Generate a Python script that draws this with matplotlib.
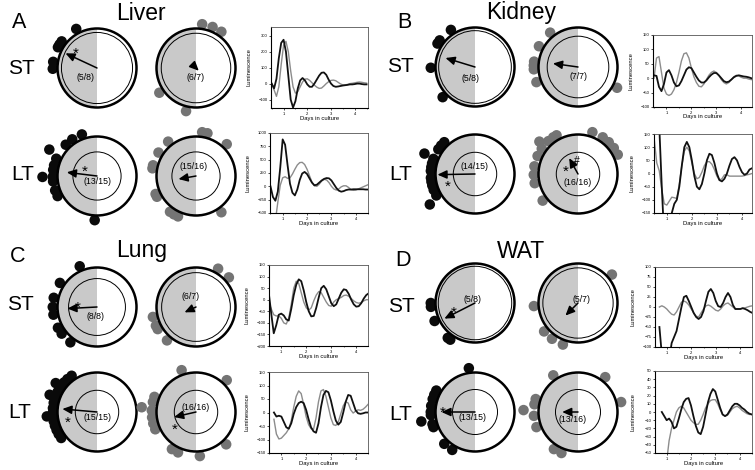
import numpy as np
import matplotlib
matplotlib.use('Agg')
import matplotlib.pyplot as plt
from matplotlib.patches import Circle, Wedge

plt.rcParams['font.family'] = ['Liberation Sans', 'DejaVu Sans']

# ---------------------------------------------------------------- data
DAYS = [0.5, 0.6, 0.7, 0.8, 0.9, 1.0, 1.1, 1.2, 1.3, 1.4, 1.5, 1.6, 1.7, 1.8,
        1.9, 2.0, 2.1, 2.2, 2.3, 2.4, 2.5, 2.6, 2.7, 2.8, 2.9, 3.0, 3.1, 3.2,
        3.3, 3.4, 3.5, 3.6, 3.7, 3.8, 3.9, 4.0, 4.1, 4.2, 4.3, 4.4, 4.5]

LIVER_ST_BLACK = [0, -30, 30, 160, 255, 275, 200, 50, -100, -150, -110, -30, 20, 35, 20, -5, -20, -20, 0, 25,
                  50, 68, 70, 55, 25, 0, -15, -20, -18, -15, -12, -10, -8, -5, -5, -3, 0, 0, -3, -5, -5]
LIVER_ST_GRAY = [0, -40, -80, -20, 120, 240, 265, 200, 80, -20, -60, -50, -20, 10, 28, 30, 20, 5, -10, -22,
                 -30, -28, -15, 0, 12, 20, 22, 18, 8, -2, -8, -8, -5, 0, 2, 5, 8, 10, 8, 5, 3]
LIVER_LT_BLACK = [0, -200, -270, -100, 350, 880, 780, 400, 50, -120, -170, -60, 120, 240, 270, 230, 150, 70, 20, 30,
                  70, 110, 140, 155, 150, 110, 40, -30, -80, -100, -90, -70, -60, -60, -55, -55, -55, -55, -55, -60, -60]
LIVER_LT_GRAY = [None, None, -650, -300, 20, 160, 180, 150, 160, 230, 320, 400, 445, 450, 410, 320, 200, 80, 10, 0,
                 40, 100, 130, 120, 70, 0, -50, -70, -50, -10, 10, 10, -20, -60, -75, -70, -50, -30, -10, 10, 30]

KIDNEY_ST_BLACK = [10, 8, -30, -45, -20, 20, 28, 10, -15, -28, -25, -10, 10, 30, 38, 35, 20, 5, -8, -15,
                   -15, -8, 3, 12, 18, 18, 10, 0, -10, -14, -12, -5, 3, 8, 10, 8, 6, 5, 3, 0, -3]
KIDNEY_ST_GRAY = [0, 70, 75, 20, -35, -55, -60, -55, -40, -15, 20, 60, 85, 88, 70, 35, 5, -15, -28, -30,
                  -20, -5, 10, 20, 25, 20, 10, -5, -15, -20, -15, -5, 5, 10, 8, 3, 0, 0, -3, -5, -5]
KIDNEY_LT_BLACK = [400, 300, 180, -50, -250, -300, -230, -150, -115, -100, -50, 30, 100, 120, 100, 50, -10, -50, -60, -40,
                   0, 50, 75, 70, 40, 0, -25, -30, -20, 0, 30, 55, 62, 50, 25, 5, -5, 0, 15, 20, 20]
KIDNEY_LT_GRAY = [130, 40, 10, -60, -115, -120, -105, -90, -92, -95, -40, 30, 85, 100, 85, 40, 0, -20, -15, 5,
                  30, 45, 45, 35, 15, -10, -25, -20, -5, -5, -10, -10, -10, -10, -10, -10, -8, -5, -3, 0, 0]

LUNG_ST_BLACK = [30, -60, -145, -110, -65, -60, -68, -85, -90, -40, 20, 65, 88, 80, 40, -10, -50, -72, -70, -35,
                 10, 50, 60, 45, 15, -15, -28, -20, 5, 30, 45, 42, 25, 0, -20, -30, -28, -15, 5, 20, 28]
LUNG_ST_GRAY = [-10, -40, -65, -70, -70, -80, -100, -105, -80, -20, 50, 80, 70, 30, -10, -35, -45, -35, -5, 20,
                35, 30, 10, -10, -25, -28, -10, 0, 5, 10, 18, 20, 15, 5, -5, -12, -15, -12, -5, 0, 0]
LUNG_LT_BLACK = [None, None, 0, -15, -12, -15, -35, -55, -60, -40, -5, 20, 35, 40, 35, 10, -25, -55, -70, -75,
                 -40, 20, 65, 80, 75, 45, 5, -30, -45, -35, 0, 40, 65, 62, 35, 8, -3, -5, -3, 0, 0]
LUNG_LT_GRAY = [None, None, -25, -80, -98, -95, -85, -75, -60, -30, 20, 60, 80, 70, 30, -15, -45, -60, -62, -20,
                40, 80, 85, 60, 20, -20, -45, -48, -35, -5, 25, 40, 35, 10, -2, 5, 10, 8, 12, 20, 30]

WAT_ST_BLACK = [None, None, -50, -120, -200, -200, -130, -90, -75, -60, -30, 0, 25, 28, 15, 0, -15, -25, -30, -25,
                -10, 15, 38, 45, 35, 15, 2, 0, 10, 25, 35, 25, 5, -5, -5, -5, -3, -5, -8, -12, -15]
WAT_ST_GRAY = [None, None, 0, 3, 0, -5, -12, -18, -20, -12, 0, 12, 15, 12, 5, -5, -15, -23, -25, -15,
               -5, 3, 5, 2, -3, -8, -10, -5, 3, 8, 10, 5, 0, -5, -5, -5, -3, -2, 0, 2, 3]
WAT_LT_BLACK = [None, None, None, 0, -5, -10, -8, -12, -20, -18, -8, 3, 12, 16, 17, 8, -5, -17, -25, -27,
                -18, -3, 12, 22, 28, 25, 15, 5, -3, -5, -3, 2, 7, 10, 10, 8, 5, 3, 0, -2, -3]
WAT_LT_GRAY = [None, None, None, None, None, -60, -35, -20, -10, 0, 5, 7, 5, 0, -5, -10, -13, -15, -15, -10,
               -3, 5, 10, 14, 15, 15, 10, 3, -3, -5, -4, 0, 4, 6, 7, 5, 2, 0, -2, -3, -3]

# phase dots: (angle in degrees, stacking layer)
LIVER_ST_1_DOTS = [(118, 0), (143, 0), (148, 0), (152, 0), (172, 0), (181, 0)]
LIVER_ST_2_DOTS = [(82, 0), (68, 0), (55, 0), (214, 0), (257, 0)]
LIVER_LT_1_DOTS = [(110, 0), (124, 0), (135, 0), (151, 1), (157, 0), (166, 0), (172, 0), (181, 1), (181, 0),
                   (187, 0), (199, 0), (207, 0), (267, 0)]
LIVER_LT_2_DOTS = [(82, 0), (75, 0), (129, 0), (148, 0), (166, 0), (170, 0), (204, 0), (208, 0), (234, 0),
                   (240, 0), (246, 0), (46, 0), (305, 0)]
KIDNEY_ST_1_DOTS = [(123, 0), (143, 0), (148, 0), (181, 0), (223, 0)]
KIDNEY_ST_2_DOTS = [(129, 0), (152, 0), (173, 0), (178, 0), (183, 0), (200, 0), (332, 0)]
KIDNEY_LT_1_DOTS = [(134, 0), (140, 0), (146, 0), (158, 1), (160, 0), (166, 0), (171, 0), (176, 0), (185, 0),
                    (190, 0), (195, 0), (201, 0), (209, 0), (214, 1)]
KIDNEY_LT_2_DOTS = [(124, 0), (132, 0), (145, 0), (156, 0), (170, 0), (181, 0), (192, 0), (217, 0), (119, 0),
                    (71, 0), (56, 0), (46, 0), (36, 0), (26, 0), (140, 0.6)]
LUNG_ST_1_DOTS = [(113, 0), (147, 0), (168, 0), (180, 0), (190, 0), (208, 0), (217, 0), (233, 0)]
LUNG_ST_2_DOTS = [(60, 0), (42, 0), (193, 0), (205, 0), (210, 0), (229, 0)]
LUNG_LT_1_DOTS = [(125, 0), (132, 0), (138, 0), (143, 0), (148, 0), (153, 0), (158, 0), (163, 0), (168, 0),
                  (175, 0), (181, 0), (186, 0), (192, 0), (198, 0), (204, 0), (210, 0), (216, 0),
                  (145, 0.6), (160, 0.6), (185, 0.6)]
LUNG_LT_2_DOTS = [(109, 0), (46, 0), (160, 0), (167, 0), (175, 1), (178, 0), (187, 0), (195, 0), (203, 0),
                  (237, 0), (246, 0), (275, 0), (313, 0)]
WAT_ST_1_DOTS = [(180, 0), (185, 0), (204, 0), (232, 0), (236, 0)]
WAT_ST_2_DOTS = [(40, 0), (184, 0), (220, 0), (234, 0), (250, 0)]
WAT_LT_1_DOTS = [(98, 0), (151, 0), (157, 0), (163, 0), (172, 0), (180, 0), (184, 0), (190, 1), (196, 0),
                 (200, 0), (226, 0), (239, 0)]
WAT_LT_2_DOTS = [(124, 0), (52, 0), (13, 0), (163, 0), (170, 0), (178, 1), (185, 0), (200, 0), (237, 0), (248, 0)]

# mean vectors: (angle in degrees, vector length)
VECTORS = {
    'liver_st_1': (155, 0.88), 'liver_st_2': (315, 0.1), 'liver_lt_1': (173, 0.77), 'liver_lt_2': (190, 0.45),
    'kidney_st_1': (163, 0.78), 'kidney_st_2': (172, 0.64), 'kidney_lt_1': (181, 0.95), 'kidney_lt_2': (119, 0.46),
    'lung_st_1': (183, 0.75), 'lung_st_2': (205, 0.32), 'lung_lt_1': (175, 0.88), 'lung_lt_2': (193, 0.57),
    'wat_st_1': (207, 0.87), 'wat_st_2': (225, 0.45), 'wat_lt_1': (180, 0.85), 'wat_lt_2': (180, 0.4),
}
COUNTS = {
    'liver_st_1': '(5/8)', 'liver_st_2': '(6/7)', 'liver_lt_1': '(13/15)', 'liver_lt_2': '(15/16)',
    'kidney_st_1': '(5/8)', 'kidney_st_2': '(7/7)', 'kidney_lt_1': '(14/15)', 'kidney_lt_2': '(16/16)',
    'lung_st_1': '(8/8)', 'lung_st_2': '(6/7)', 'lung_lt_1': '(15/15)', 'lung_lt_2': '(16/16)',
    'wat_st_1': '(5/8)', 'wat_st_2': '(5/7)', 'wat_lt_1': '(13/15)', 'wat_lt_2': '(13/16)',
}

# ---------------------------------------------------------------- figure
W, H = 755, 470
fig = plt.figure(figsize=(W / 100, H / 100), dpi=100)
R = 39.5           # circle radius in px
S = 1.75           # half extent of circle axes in radius units

BLACK = '#0a0a0a'
GRAYDOT = '#747474'
FILL = '#c9c9c9'


def clock(key, cx, cy, dots, color, inner, lab_off, marks=()):
    ax = fig.add_axes([(cx - S * R) / W, 1 - (cy + S * R) / H, 2 * S * R / W, 2 * S * R / H])
    ax.set_xlim(-S, S)
    ax.set_ylim(-S, S)
    ax.set_aspect('equal')
    ax.axis('off')
    ax.patch.set_visible(False)
    ax.add_patch(Wedge((0, 0), 1, 90, 270, facecolor=FILL, edgecolor='none', zorder=1))
    ax.add_patch(Circle((0, 0), inner, fill=False, lw=0.7, ec='black', zorder=2))
    for ang, layer in dots:
        rr = 1.12 + 0.26 * layer
        a = np.deg2rad(ang)
        ax.add_patch(Circle((rr * np.cos(a), rr * np.sin(a)), 0.133, fc=color, ec='none', zorder=3))
    ax.add_patch(Circle((0, 0), 1, fill=False, lw=1.8, ec='black', zorder=4))
    ang, L = VECTORS[key]
    a = np.deg2rad(ang)
    ax.annotate('', xy=(L * np.cos(a), L * np.sin(a)), xytext=(0, 0),
                arrowprops=dict(arrowstyle='-|>,head_length=0.55,head_width=0.25', color='black',
                                lw=1.1, shrinkA=0, shrinkB=0, mutation_scale=10), zorder=5)
    ax.text(lab_off[0], lab_off[1], COUNTS[key], fontsize=6.3, ha='center', va='center', zorder=6)
    for sym, mx, my in marks:
        ax.text(mx, my - (0.12 if sym == '*' else 0), sym, fontsize=11 if sym == '*' else 7.5,
                ha='center', va='center', zorder=6)


def trace(box, xlim, ylim, yticks, black, gray):
    l, t, r, b = box
    ax = fig.add_axes([l / W, 1 - b / H, (r - l) / W, (b - t) / H])
    x = np.array(DAYS, dtype=float)
    ax.plot(x, np.array(gray, dtype=float), color='#8c8c8c', lw=1.0)
    ax.plot(x, np.array(black, dtype=float), color='#111111', lw=1.3)
    ax.set_xlim(xlim)
    ax.set_ylim(ylim)
    ax.set_xticks([1, 2, 3, 4])
    ax.set_xticks([t_ for t_ in (0.5, 1.5, 2.5, 3.5, 4.5) if xlim[0] <= t_ <= xlim[1]], minor=True)
    ax.set_yticks(yticks)
    ax.tick_params(labelsize=3, length=1.6, width=0.5, pad=1)
    ax.tick_params(which='minor', length=1.0, width=0.4)
    for s in ('left', 'bottom'):
        ax.spines[s].set_linewidth(0.8)
    for s in ('top', 'right'):
        ax.spines[s].set_linewidth(0.6)
        ax.spines[s].set_color('#555555')
    ax.set_ylabel('Luminescence', fontsize=4.2)
    ax.yaxis.set_label_coords(-0.2, 0.5)
    ax.set_xlabel('Days in culture', fontsize=4.2)
    ax.xaxis.set_label_coords(0.5, -0.1)


# ---- Liver (A)
clock('liver_st_1', 97, 68, LIVER_ST_1_DOTS, BLACK, 0.9, (-0.3, -0.25), [('*', -0.55, 0.48)])
clock('liver_st_2', 196, 68, LIVER_ST_2_DOTS, GRAYDOT, 0.88, (0.0, -0.25))
clock('liver_lt_1', 97, 176, LIVER_LT_1_DOTS, BLACK, 0.61, (0.0, -0.15), [('*', -0.3, 0.22)])
clock('liver_lt_2', 196, 176, LIVER_LT_2_DOTS, GRAYDOT, 0.61, (-0.07, 0.23))
trace((271, 27, 368, 108), (0.47, 4.56), (-153, 355), [-100, 0, 100, 200, 300], LIVER_ST_BLACK, LIVER_ST_GRAY)
trace((270, 133, 368, 213), (0.48, 4.5), (-500, 1000), [-500, -250, 0, 250, 500, 750, 1000],
      LIVER_LT_BLACK, LIVER_LT_GRAY)

# ---- Kidney (B)
clock('kidney_st_1', 475, 67, KIDNEY_ST_1_DOTS, BLACK, 0.92, (-0.12, -0.3))
clock('kidney_st_2', 578, 67, KIDNEY_ST_2_DOTS, GRAYDOT, 0.78, (0.02, -0.25))
clock('kidney_lt_1', 475, 174, KIDNEY_LT_1_DOTS, BLACK, 0.55, (0.0, 0.2), [('*', -0.68, -0.2)])
clock('kidney_lt_2', 578, 174, KIDNEY_LT_2_DOTS, GRAYDOT, 0.55, (0.0, -0.22),
      [('*', -0.3, 0.18), ('#', -0.02, 0.33)])
trace((653, 35, 752, 107), (0.46, 4.43), (-100, 150), [-100, -50, 0, 50, 100, 150], KIDNEY_ST_BLACK, KIDNEY_ST_GRAY)
trace((654, 134, 752, 213), (0.49, 4.4), (-150, 150), [-150, -100, -50, 0, 50, 100, 150],
      KIDNEY_LT_BLACK, KIDNEY_LT_GRAY)

# ---- Lung (C)
clock('lung_st_1', 97, 307, LUNG_ST_1_DOTS, BLACK, 0.72, (-0.05, -0.25), [('*', -0.48, 0.1)])
clock('lung_st_2', 196, 307, LUNG_ST_2_DOTS, GRAYDOT, 0.87, (-0.15, 0.27))
clock('lung_lt_1', 97, 412, LUNG_LT_1_DOTS, BLACK, 0.55, (0.0, -0.15), [('*', -0.73, -0.15)])
clock('lung_lt_2', 196, 412, LUNG_LT_2_DOTS, GRAYDOT, 0.55, (0.0, 0.12), [('*', -0.55, -0.33)])
trace((269, 265, 368, 346), (0.51, 4.47), (-200, 150), [-200, -150, -100, -50, 0, 50, 100, 150],
      LUNG_ST_BLACK, LUNG_ST_GRAY)
trace((269, 372, 368, 453), (0.5, 4.5), (-150, 150), [-150, -100, -50, 0, 50, 100, 150],
      LUNG_LT_BLACK, LUNG_LT_GRAY)

# ---- WAT (D)
clock('wat_st_1', 475, 303, WAT_ST_1_DOTS, BLACK, 0.93, (-0.07, 0.1), [('*', -0.55, -0.12)])
clock('wat_st_2', 578, 303, WAT_ST_2_DOTS, GRAYDOT, 0.89, (0.1, 0.1))
clock('wat_lt_1', 475, 412, WAT_LT_1_DOTS, BLACK, 0.57, (-0.07, -0.15), [('*', -0.82, 0.1)])
clock('wat_lt_2', 578, 412, WAT_LT_2_DOTS, GRAYDOT, 0.57, (-0.15, -0.2))
trace((655, 267, 752, 347), (0.52, 4.48), (-100, 100), [-100, -75, -50, -25, 0, 25, 50, 75, 100],
      WAT_ST_BLACK, WAT_ST_GRAY)
trace((655, 371, 752, 453), (0.52, 4.51), (-50, 50), [-50, -40, -30, -20, -10, 0, 10, 20, 30, 40, 50],
      WAT_LT_BLACK, WAT_LT_GRAY)

# ---- headings
def ftext(x, y, s, size):
    fig.text(x / W, 1 - y / H, s, fontsize=size, ha='center', va='center')


for s, x, y in [('A', 19, 23), ('B', 404, 22), ('C', 18, 257), ('D', 403, 260)]:
    ftext(x, y, s, 15.5)
for s, x, y in [('Liver', 141, 13), ('Kidney', 521, 13), ('Lung', 142, 251), ('WAT', 521, 251)]:
    ftext(x, y, s, 16.5)
for s, x, y in [('ST', 21, 68), ('LT', 23, 175), ('ST', 400, 67), ('LT', 401, 175),
                ('ST', 20, 305), ('LT', 20, 412), ('ST', 401, 307), ('LT', 401, 415)]:
    ftext(x, y, s, 15)

fig.savefig('out.png', dpi=100)
